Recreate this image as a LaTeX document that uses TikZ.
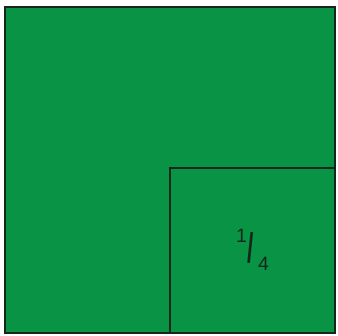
\documentclass[tikz,border=0pt]{standalone}
\usepackage{fontspec}
\setmainfont{Liberation Sans}
\definecolor{fieldgreen}{RGB}{8,148,68}
\definecolor{edgedark}{RGB}{22,38,26}

\begin{document}
\begin{tikzpicture}[x=0.75pt,y=-0.75pt,line width=1.5pt]
  \useasboundingbox (0,0) rectangle (338,335);

  % The whole square, and the quarter in its lower right corner.
  \filldraw[fill=fieldgreen,draw=edgedark] (4.5,7) rectangle (335,333);
  \draw[edgedark] (170,333) -- (170,168) -- (335,168);

  % The fraction written inside the quarter.
  \node[font=\fontsize{14.5}{16}\selectfont,text=edgedark] (num) at (241.5,236) {1};
  \node[font=\bfseries\fontsize{31}{33}\selectfont,text=edgedark,xscale=0.55] (slash) at (250.5,248) {/};
  \node[font=\fontsize{14.5}{16}\selectfont,text=edgedark] (den) at (263.5,264) {4};
\end{tikzpicture}
\end{document}
